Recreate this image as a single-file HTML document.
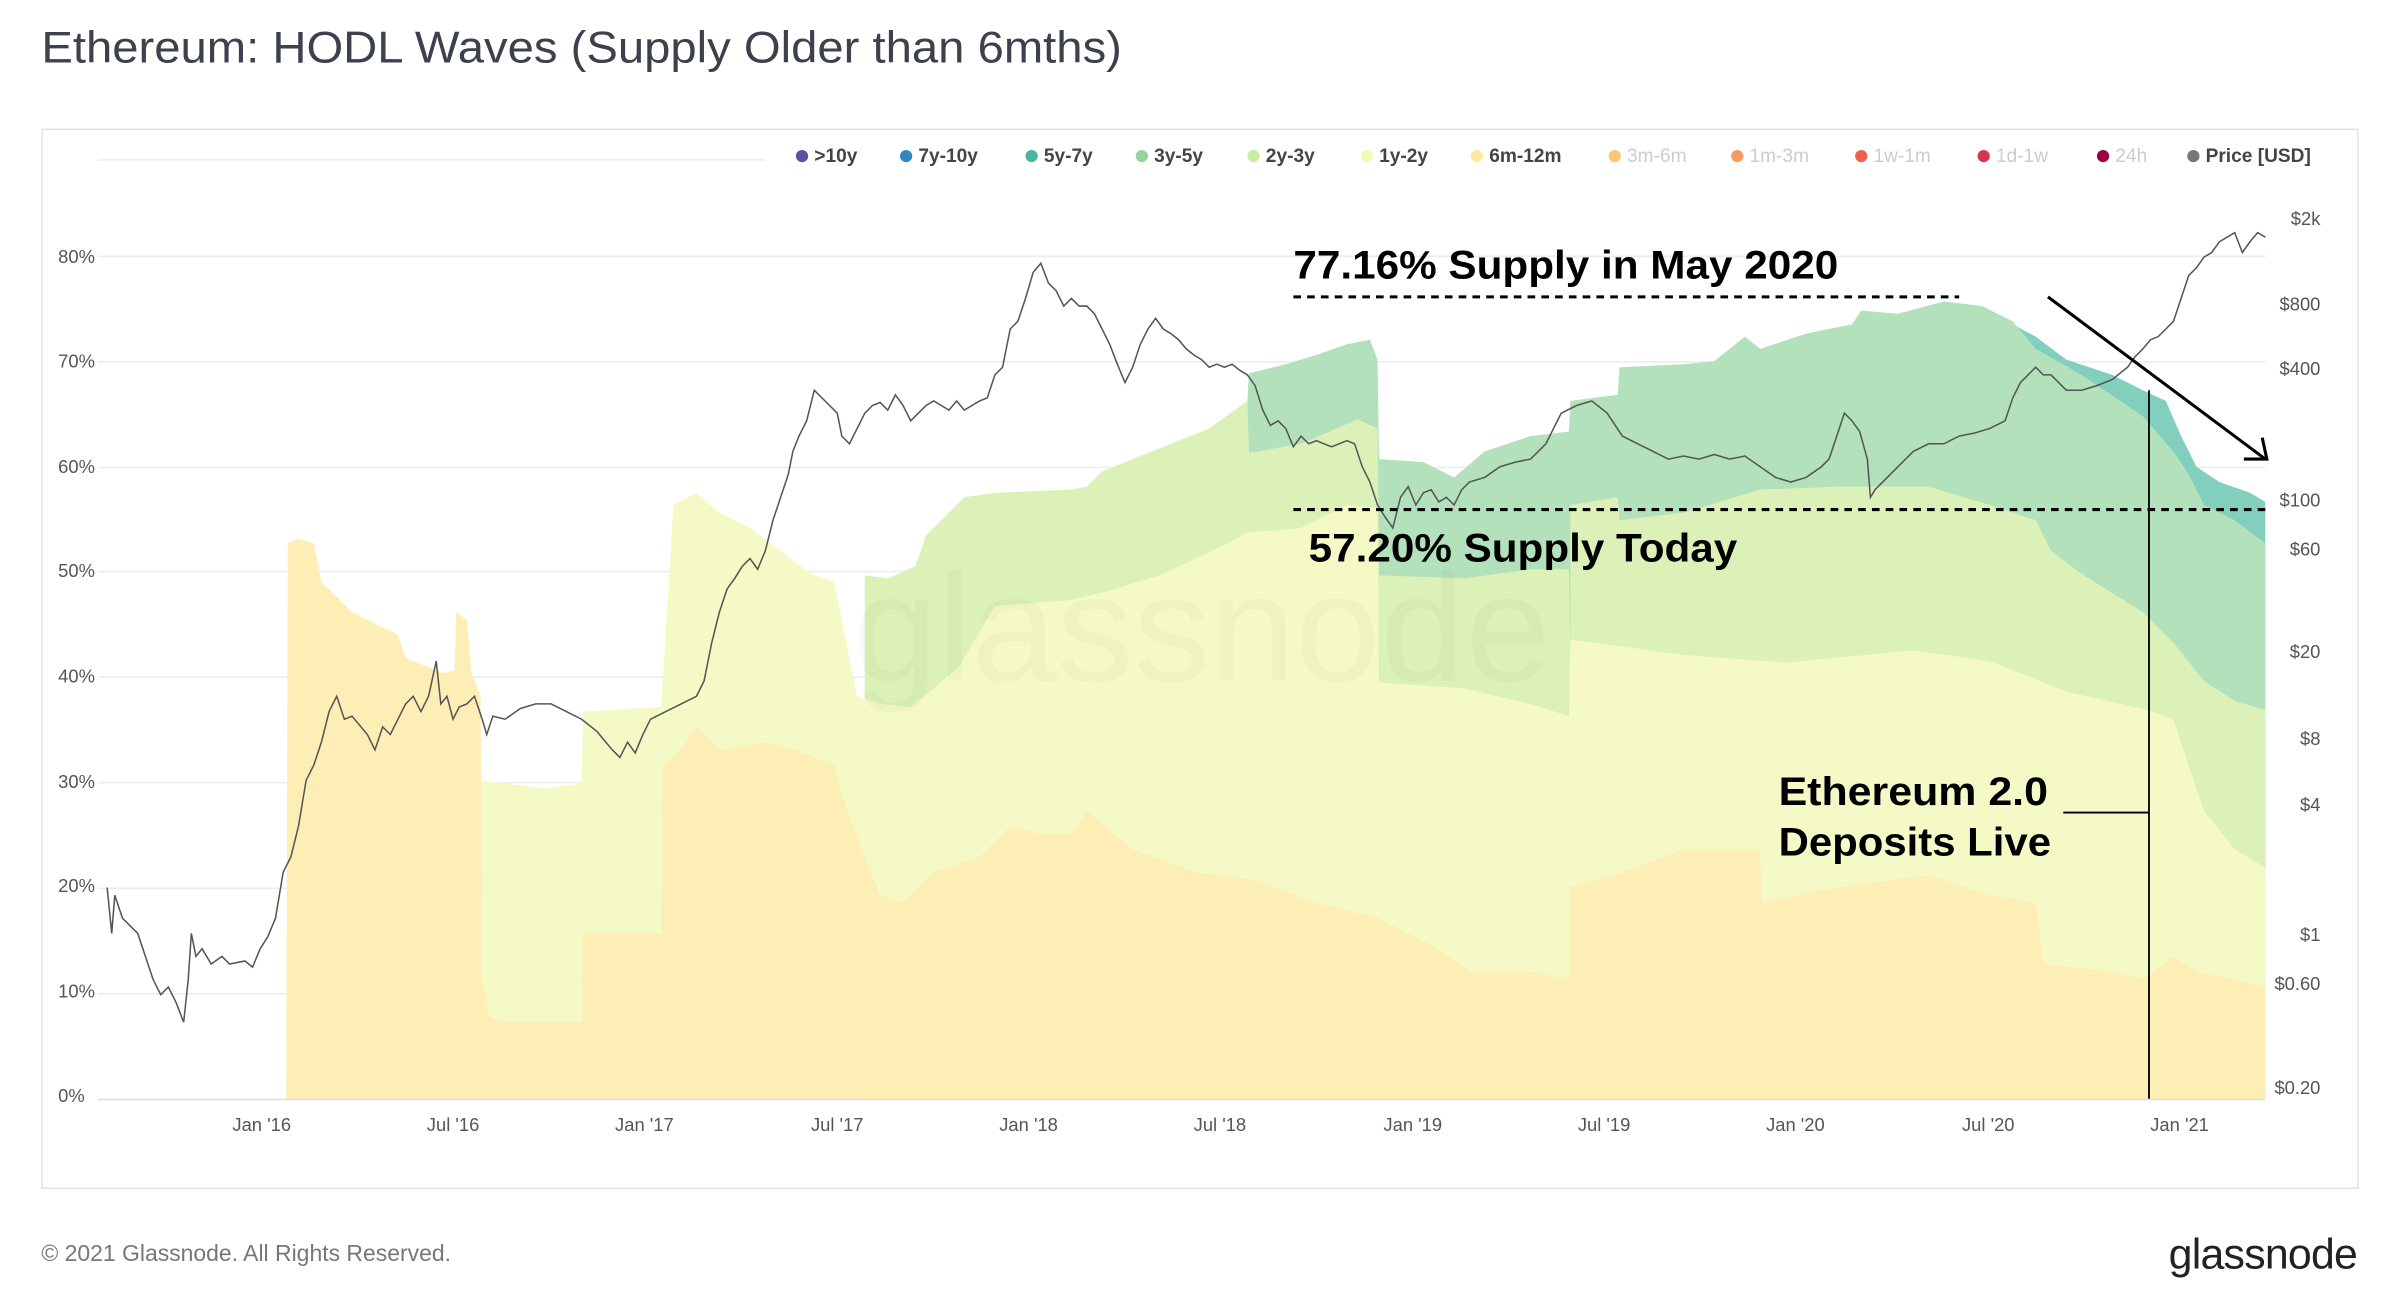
<!DOCTYPE html>
<html><head><meta charset="utf-8"><style>
html,body{margin:0;padding:0;background:#fff;}
svg{display:block;font-family:"Liberation Sans",sans-serif;}
</style></head><body>
<svg width="2400" height="1290" viewBox="0 0 1568 843" preserveAspectRatio="none" xmlns="http://www.w3.org/2000/svg">
<rect width="1568" height="843" fill="#fff"/>
<text x="27" y="41" font-size="29" fill="#3c414b" textLength="706" lengthAdjust="spacingAndGlyphs">Ethereum: HODL Waves (Supply Older than 6mths)</text>
<rect x="27.5" y="84.5" width="1513" height="692" fill="#fff" stroke="#e3e3e3"/>
<!-- grid -->
<g stroke="#ececec" stroke-width="1">
<line x1="64" x2="500" y1="104.5" y2="104.5"/>
<line x1="64" x2="1480" y1="167.5" y2="167.5"/>
<line x1="64" x2="1480" y1="236.5" y2="236.5"/>
<line x1="64" x2="1480" y1="305.5" y2="305.5"/>
<line x1="64" x2="1480" y1="373.5" y2="373.5"/>
<line x1="64" x2="1480" y1="442.5" y2="442.5"/>
<line x1="64" x2="1480" y1="511.5" y2="511.5"/>
<line x1="64" x2="1480" y1="580.5" y2="580.5"/>
<line x1="64" x2="1480" y1="649.5" y2="649.5"/>
<line x1="64" x2="1480" y1="718.5" y2="718.5" stroke="#ddd"/>
</g>
<!-- legend -->
<g font-size="12.5" font-weight="bold" fill="#444">
<circle cx="524" cy="102" r="4" fill="#5e4fa2"/><text x="532" y="106">&gt;10y</text>
<circle cx="592" cy="102" r="4" fill="#3288bd"/><text x="600" y="106">7y-10y</text>
<circle cx="674" cy="102" r="4" fill="#49b5a5"/><text x="682" y="106">5y-7y</text>
<circle cx="746" cy="102" r="4" fill="#93d3a0"/><text x="754" y="106">3y-5y</text>
<circle cx="819" cy="102" r="4" fill="#c9eca0"/><text x="827" y="106">2y-3y</text>
<circle cx="893" cy="102" r="4" fill="#f3f9b8"/><text x="901" y="106">1y-2y</text>
<circle cx="965" cy="102" r="4" fill="#fde9a6"/><text x="973" y="106">6m-12m</text>
<g fill="#ccc" font-weight="normal">
<circle cx="1055" cy="102" r="4" fill="#fdc47a"/><text x="1063" y="106">3m-6m</text>
<circle cx="1135" cy="102" r="4" fill="#f99a62"/><text x="1143" y="106">1m-3m</text>
<circle cx="1216" cy="102" r="4" fill="#f0604b"/><text x="1224" y="106">1w-1m</text>
<circle cx="1296" cy="102" r="4" fill="#d9344f"/><text x="1304" y="106">1d-1w</text>
<circle cx="1374" cy="102" r="4" fill="#9e0142"/><text x="1382" y="106">24h</text>
</g>
<circle cx="1433" cy="102" r="4" fill="#777"/><text x="1441" y="106">Price [USD]</text>
</g>
<g font-size="12" fill="#555">
<text x="38" y="172">80%</text><text x="38" y="240">70%</text><text x="38" y="309">60%</text><text x="38" y="377">50%</text>
<text x="38" y="446">40%</text><text x="38" y="515">30%</text><text x="38" y="583">20%</text><text x="38" y="652">10%</text><text x="38" y="720">0%</text>
</g>
<g font-size="12" fill="#555" text-anchor="middle">
<text x="171" y="739">Jan '16</text><text x="296" y="739">Jul '16</text><text x="421" y="739">Jan '17</text><text x="547" y="739">Jul '17</text>
<text x="672" y="739">Jan '18</text><text x="797" y="739">Jul '18</text><text x="923" y="739">Jan '19</text><text x="1048" y="739">Jul '19</text>
<text x="1173" y="739">Jan '20</text><text x="1299" y="739">Jul '20</text><text x="1424" y="739">Jan '21</text>
</g>
<g font-size="12" fill="#555" text-anchor="end">
<text x="1516" y="147">$2k</text><text x="1516" y="203">$800</text><text x="1516" y="245">$400</text><text x="1516" y="331">$100</text>
<text x="1516" y="363">$60</text><text x="1516" y="430">$20</text><text x="1516" y="487">$8</text><text x="1516" y="530">$4</text>
<text x="1516" y="615">$1</text><text x="1516" y="647">$0.60</text><text x="1516" y="715">$0.20</text>
</g>
<!-- areas -->
<polygon fill="#83cfbe" points="1315,718 1315,212 1330,220 1350,235 1380,245 1400,255 1415,262 1425,285 1435,305 1450,315 1470,322 1480,328 1480,718"/>
<polygon fill="#b3e1bb" points="815,718 815,262 816,244 840,238 860,232 880,225 895,222 900,235 901,300 930,302 950,312 970,295 1000,285 1025,282 1026,262 1057,258 1058,240 1100,238 1120,236 1140,220 1150,228 1180,218 1210,212 1216,203 1240,205 1270,197 1295,200 1315,210 1330,228 1360,245 1400,272 1420,295 1430,310 1440,330 1460,340 1480,355 1480,718"/>
<polygon fill="#dcf1b7" points="565,718 565,376 580,378 598,370 605,350 630,325 650,322 700,320 710,318 720,308 740,300 760,292 790,280 815,262 816,296 850,290 887,274 900,280 901,376 957,378 1000,372 1025,372 1026,425 1026,330 1057,325 1058,340 1100,335 1150,320 1200,318 1260,318 1300,330 1330,340 1340,360 1360,375 1400,400 1420,420 1440,445 1460,458 1480,464 1480,718"/>
<polygon fill="#f4f9c6" points="314,718 314,510 355,515 380,512 381,465 432,462 440,330 455,322 470,335 490,345 510,360 530,375 545,380 560,455 575,460 595,462 610,450 627,435 650,396 700,392 725,386 760,375 800,356 815,348 850,345 880,330 900,332 901,446 957,450 1000,460 1025,468 1026,418 1100,428 1167,433 1250,425 1300,432 1350,452 1403,464 1420,470 1430,500 1440,530 1460,555 1480,567 1480,718"/>
<polygon fill="#fdeeb5" points="187,718 188,355 195,352 205,355 210,380 230,400 260,415 265,430 290,440 297,438 298,400 305,405 308,440 314,455 315,640 320,665 330,668 380,668 381,610 432,610 433,500 445,490 455,475 470,490 500,485 520,490 545,500 550,520 565,560 575,585 590,590 610,570 640,560 660,540 680,545 700,545 710,530 740,555 780,570 820,575 860,590 900,600 940,620 960,635 1000,635 1025,640 1026,580 1060,570 1100,555 1150,555 1151,590 1200,580 1260,572 1300,585 1330,590 1335,630 1380,635 1400,640 1420,625 1435,635 1460,640 1480,645 1480,718"/>
<text x="785" y="445" font-size="100" text-anchor="middle" fill="#000" fill-opacity="0.025">glassnode</text>
<!-- price -->
<polyline fill="none" stroke="#555" stroke-width="1" points="70,580 73,610 75,585 80,600 85,605 90,610 95,625 100,640 105,650 110,645 115,655 120,668 123,640 125,610 128,625 132,620 138,630 145,625 150,630 160,628 165,632 170,620 175,612 180,600 185,570 190,560 195,540 200,510 205,500 210,485 215,465 220,455 225,470 230,468 240,480 245,490 250,475 255,480 260,470 265,460 270,455 275,465 280,455 285,432 288,460 292,455 296,470 300,462 305,460 310,455 315,470 318,480 322,468 330,470 340,463 350,460 360,460 370,465 380,470 390,478 400,490 405,495 410,485 415,492 420,480 425,470 435,465 445,460 455,455 460,445 465,420 470,400 475,385 480,378 485,370 490,365 495,372 500,360 505,340 510,325 515,310 518,295 522,285 527,275 532,255 537,260 542,265 547,270 550,285 555,290 560,280 565,270 570,265 575,263 580,268 585,258 590,265 595,275 600,270 605,265 610,262 615,265 620,268 625,262 630,268 640,262 645,260 650,245 655,240 660,215 665,210 670,195 675,178 680,172 685,185 690,190 695,200 700,195 705,200 710,200 715,205 720,215 725,225 730,238 735,250 740,240 745,225 750,215 755,208 760,215 765,218 770,222 775,228 780,232 785,235 790,240 795,238 800,240 805,238 810,242 815,245 820,252 825,268 830,278 835,275 840,280 845,292 850,285 855,290 860,288 870,292 880,288 885,290 890,305 895,315 900,330 905,338 910,345 915,325 920,318 925,330 930,322 935,320 940,328 945,325 950,330 955,320 960,315 970,312 980,305 990,302 1000,300 1010,290 1015,280 1020,270 1030,265 1040,262 1050,270 1060,285 1070,290 1080,295 1090,300 1100,298 1110,300 1120,297 1130,300 1140,298 1150,305 1160,312 1170,315 1180,312 1190,305 1195,300 1200,285 1205,270 1210,275 1215,282 1220,300 1222,325 1225,320 1230,315 1240,305 1250,295 1260,290 1270,290 1280,285 1290,283 1300,280 1310,275 1315,260 1320,250 1325,245 1330,240 1335,245 1340,245 1345,250 1350,255 1360,255 1370,252 1380,248 1390,240 1395,233 1400,228 1405,222 1410,220 1415,215 1420,210 1425,195 1430,180 1435,175 1440,168 1445,165 1450,158 1455,155 1460,152 1465,165 1470,158 1475,152 1480,155"/>
<!-- annotations -->
<g font-weight="bold" fill="#000">
<text x="845" y="182" font-size="26" textLength="356" lengthAdjust="spacingAndGlyphs">77.16% Supply in May 2020</text>
<text x="855" y="367" font-size="26" textLength="280" lengthAdjust="spacingAndGlyphs">57.20% Supply Today</text>
<text x="1162" y="526" font-size="26" textLength="176" lengthAdjust="spacingAndGlyphs">Ethereum 2.0</text>
<text x="1162" y="559" font-size="26" textLength="178" lengthAdjust="spacingAndGlyphs">Deposits Live</text>
</g>
<line x1="845" x2="1280" y1="194" y2="194" stroke="#000" stroke-width="2" stroke-dasharray="5,4"/>
<line x1="845" x2="1480" y1="333" y2="333" stroke="#000" stroke-width="2" stroke-dasharray="5,4"/>
<line x1="1338" y1="194" x2="1480" y2="300" stroke="#000" stroke-width="2"/>
<polyline points="1466,300 1481,300 1478,286" fill="none" stroke="#000" stroke-width="2"/>
<line x1="1404" x2="1404" y1="255" y2="718" stroke="#000" stroke-width="1.2"/>
<line x1="1348" x2="1404" y1="531" y2="531" stroke="#000" stroke-width="1.2"/>
<text x="27" y="824" font-size="15" fill="#777">© 2021 Glassnode. All Rights Reserved.</text>
<text x="1540" y="829" font-size="28" fill="#222" text-anchor="end" letter-spacing="-0.5">glassnode</text>
</svg>
</body></html>
